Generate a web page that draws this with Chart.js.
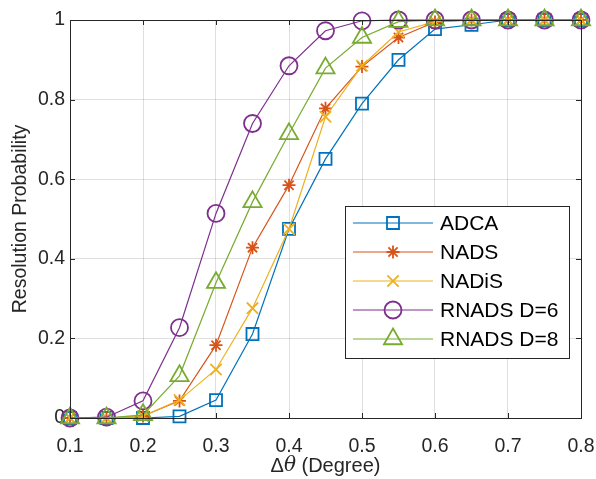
<!DOCTYPE html>
<html>
<head>
<meta charset="utf-8">
<script src="https://cdn.jsdelivr.net/npm/chart.js@4/dist/chart.umd.min.js"></script>
<style>
  html, body { margin: 0; padding: 0; background: #fff; }
  #wrap { width: 596px; height: 479px; }
</style>
</head>
<body>
<div id="wrap"><canvas id="chart" width="596" height="479"></canvas></div>
<script>
const deltaTheta = [0.1, 0.15, 0.2, 0.25, 0.3, 0.35, 0.4, 0.45, 0.5, 0.55, 0.6, 0.65, 0.7, 0.75, 0.8];

const adca   = [0, 0, 0, 0.004, 0.045, 0.211, 0.475, 0.651, 0.79, 0.90, 0.977, 0.988, 1, 1, 1];
const nads   = [0, 0, 0.005, 0.043, 0.183, 0.428, 0.585, 0.778, 0.883, 0.956, 0.995, 1, 1, 1, 1];
const nadis  = [0, 0, 0.005, 0.045, 0.122, 0.276, 0.475, 0.757, 0.885, 0.97, 0.996, 1, 1, 1, 1];
const rnads6 = [0, 0.002, 0.043, 0.227, 0.514, 0.74, 0.885, 0.973, 0.998, 1, 1, 1, 1, 1, 1];
const rnads8 = [0, 0, 0.008, 0.106, 0.34, 0.543, 0.714, 0.879, 0.956, 0.996, 1, 1, 1, 1, 1];

const seriesNames = ["ADCA", "NADS", "NADiS", "RNADS D=6", "RNADS D=8"];
const xTicks = [0.1, 0.2, 0.3, 0.4, 0.5, 0.6, 0.7, 0.8];
const yTicks = [0, 0.2, 0.4, 0.6, 0.8, 1];

const colors = ["#0072BD", "#D95319", "#EDB120", "#7E2F8E", "#77AC30"];
const markers = [
  { style: "rect", radius: 8.5 },
  { style: "star", radius: 6.5 },
  { style: "crossRot", radius: 8 },
  { style: "circle", radius: 8.5 },
  { style: "triangle", radius: 10.5 }
];
const axisColor = "#262626";
const fontFamily = "'Liberation Sans', Arial, Helvetica, sans-serif";

const allSeries = [adca, nads, nadis, rnads6, rnads8];

const datasets = allSeries.map((vals, i) => ({
  label: seriesNames[i],
  data: deltaTheta.map((x, j) => ({ x: x, y: vals[j] })),
  borderColor: colors[i],
  backgroundColor: "rgba(0,0,0,0)",
  borderWidth: 1.2,
  pointStyle: markers[i].style,
  pointRadius: markers[i].radius,
  pointBorderWidth: 1.8,
  pointBorderColor: colors[i],
  pointBackgroundColor: "rgba(0,0,0,0)",
  tension: 0,
  clip: false,
  order: allSeries.length - i
}));

// box round the axes with inward ticks, like matlab
const boxPlugin = {
  id: "box",
  afterDatasetsDraw(chart) {
    const ctx = chart.ctx;
    const a = chart.chartArea;
    const xs = chart.scales.x, ys = chart.scales.y;
    ctx.save();
    ctx.strokeStyle = axisColor;
    ctx.lineWidth = 1;
    ctx.strokeRect(a.left + 0.5, a.top + 0.5, a.right - a.left, a.bottom - a.top);
    const len = 5;
    ctx.beginPath();
    xTicks.forEach(v => {
      const px = Math.round(xs.getPixelForValue(v)) + 0.5;
      ctx.moveTo(px, a.bottom); ctx.lineTo(px, a.bottom - len);
      ctx.moveTo(px, a.top); ctx.lineTo(px, a.top + len);
    });
    yTicks.forEach(v => {
      const py = Math.round(ys.getPixelForValue(v)) + 0.5;
      ctx.moveTo(a.left, py); ctx.lineTo(a.left + len, py);
      ctx.moveTo(a.right, py); ctx.lineTo(a.right - len, py);
    });
    ctx.stroke();

    // x label with italic theta
    const parts = [
      { t: "\u0394", f: "20px " + fontFamily },
      { t: "\u03b8", f: "italic 20px 'DejaVu Serif', 'Liberation Serif', serif" },
      { t: " (Degree)", f: "20px " + fontFamily }
    ];
    let total = 0;
    parts.forEach(p => { ctx.font = p.f; p.w = ctx.measureText(p.t).width; total += p.w; });
    let x = (a.left + a.right) / 2 - total / 2;
    ctx.fillStyle = axisColor;
    ctx.textBaseline = "middle";
    parts.forEach(p => { ctx.font = p.f; ctx.fillText(p.t, x, 466); x += p.w; });
    ctx.restore();
  }
};

const legendPlugin = {
  id: "boxLegend",
  afterDraw(chart) {
    const ctx = chart.ctx;
    const left = 345, top = 206, w = 224, h = 152;
    ctx.save();
    ctx.fillStyle = "#fff";
    ctx.fillRect(left, top, w, h);
    ctx.strokeStyle = axisColor;
    ctx.lineWidth = 1;
    ctx.strokeRect(left + 0.5, top + 0.5, w, h);
    ctx.font = "21px " + fontFamily;
    ctx.textBaseline = "middle";
    seriesNames.forEach((name, i) => {
      const y = top + 17 + i * 29;
      ctx.strokeStyle = colors[i];
      ctx.lineWidth = 1.2;
      ctx.beginPath();
      ctx.moveTo(353, y); ctx.lineTo(433, y);
      ctx.stroke();
      ctx.lineWidth = 1.8;
      ctx.fillStyle = "rgba(0,0,0,0)";
      Chart.helpers.drawPoint(ctx, {
        pointStyle: markers[i].style,
        radius: markers[i].radius,
        rotation: 0,
        borderWidth: 1.8
      }, 393, y);
      ctx.fillStyle = "#000";
      ctx.fillText(name, 440, y + 1);
    });
    ctx.restore();
  }
};

const ctx = document.getElementById("chart").getContext("2d");
const chart = new Chart(ctx, {
  type: "line",
  data: { datasets: datasets },
  options: {
    responsive: false,
    animation: false,
    layout: { padding: { top: 20, right: 15, left: 0, bottom: 0 } },
    plugins: {
      legend: { display: false },
      tooltip: { enabled: false }
    },
    scales: {
      x: {
        type: "linear",
        min: 0.1,
        max: 0.8,
        afterBuildTicks(scale) { scale.ticks = xTicks.map(v => ({ value: v })); },
        afterFit(scale) { scale.height = 61; scale.paddingLeft = 0; scale.paddingRight = 0; },
        ticks: {
          callback: v => v.toFixed(1),
          color: axisColor,
          font: { family: fontFamily, size: 19.5 },
          padding: 17,
          maxRotation: 0
        },
        grid: { color: "rgba(38,38,38,0.15)", drawTicks: false },
        border: { display: false },
        title: { display: false }
      },
      y: {
        type: "linear",
        min: 0,
        max: 1,
        afterBuildTicks(scale) { scale.ticks = yTicks.map(v => ({ value: v })); },
        afterFit(scale) { scale.width = 70; },
        ticks: {
          callback: v => String(+v.toFixed(1)),
          color: axisColor,
          font: { family: fontFamily, size: 19.5 },
          padding: 5
        },
        grid: { color: "rgba(38,38,38,0.15)", drawTicks: false },
        border: { display: false },
        title: {
          display: true,
          text: "Resolution Probability",
          color: axisColor,
          font: { family: fontFamily, size: 19.5 },
          padding: { top: 9, bottom: 0 }
        }
      }
    }
  },
  plugins: [boxPlugin, legendPlugin]
});
</script>
</body>
</html>
